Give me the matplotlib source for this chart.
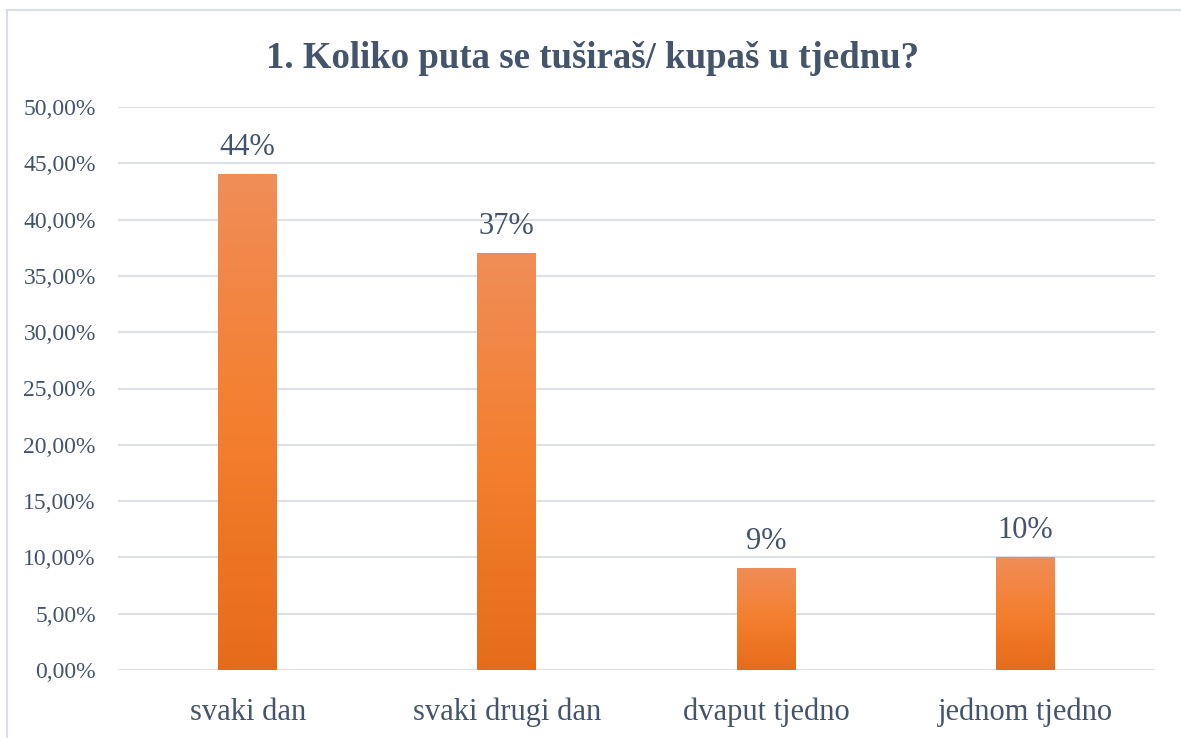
import numpy as np
import matplotlib.pyplot as plt
from matplotlib.colors import LinearSegmentedColormap
from matplotlib.patches import Rectangle
from matplotlib.ticker import FuncFormatter

categories = ["svaki dan", "svaki drugi dan", "dvaput tjedno", "jednom tjedno"]
values = [0.44, 0.37, 0.09, 0.10]
labels = ["44%", "37%", "9%", "10%"]
title = "1. Koliko puta se tuširaš/ kupaš u tjednu?"

txt = "#44546A"
grid_c = "#DCDFE6"
plt.rcParams['font.family'] = ['Liberation Serif', 'DejaVu Serif']

fig = plt.figure(figsize=(11.81, 7.38), dpi=100)
ax = fig.add_axes([118 / 1181, 68 / 738, (1155 - 118) / 1181, (670 - 107) / 738])

# light frame around the chart area
fig.patches.append(Rectangle((7 / 1181, -0.1), 1.2, (738 - 10) / 738 + 0.1,
                             transform=fig.transFigure, fill=False,
                             edgecolor="#D9DEE6", linewidth=1.5))

cmap = LinearSegmentedColormap.from_list("og", ["#E56C1A", "#F47F2E", "#F08D58"])
grad = np.linspace(0, 1, 256).reshape(-1, 1)
w = 0.227
x = np.arange(len(categories))
for xi, v, lab in zip(x, values, labels):
    ax.imshow(grad, cmap=cmap, origin="lower", aspect="auto",
              extent=(xi - w / 2, xi + w / 2, 0, v), zorder=3)
    ax.annotate(lab, (xi, v), xytext=(0, 9), textcoords="offset points",
                ha="center", va="bottom", fontsize=22, color=txt)

ax.set_xlim(-0.5, len(categories) - 0.5)
ax.set_ylim(0, 0.5)
ax.set_yticks(np.arange(0, 0.501, 0.05))
ax.yaxis.set_major_formatter(FuncFormatter(lambda v, p: f"{v * 100:.2f}%".replace(".", ",")))
ax.set_xticks(x)
ax.set_xticklabels(categories)
ax.tick_params(axis="y", length=0, pad=16, labelsize=17, labelcolor=txt)
ax.tick_params(axis="x", length=0, pad=20, labelsize=22, labelcolor=txt)
for s in ax.spines.values():
    s.set_visible(False)
ax.grid(axis="y", color=grid_c, linewidth=1.5, zorder=0)
ax.set_axisbelow(True)

fig.text(0.502, 1 - 59 / 738, title, ha="center", va="center",
         fontsize=26.5, fontweight="bold", color=txt)

fig.savefig("out.png", dpi=100)
